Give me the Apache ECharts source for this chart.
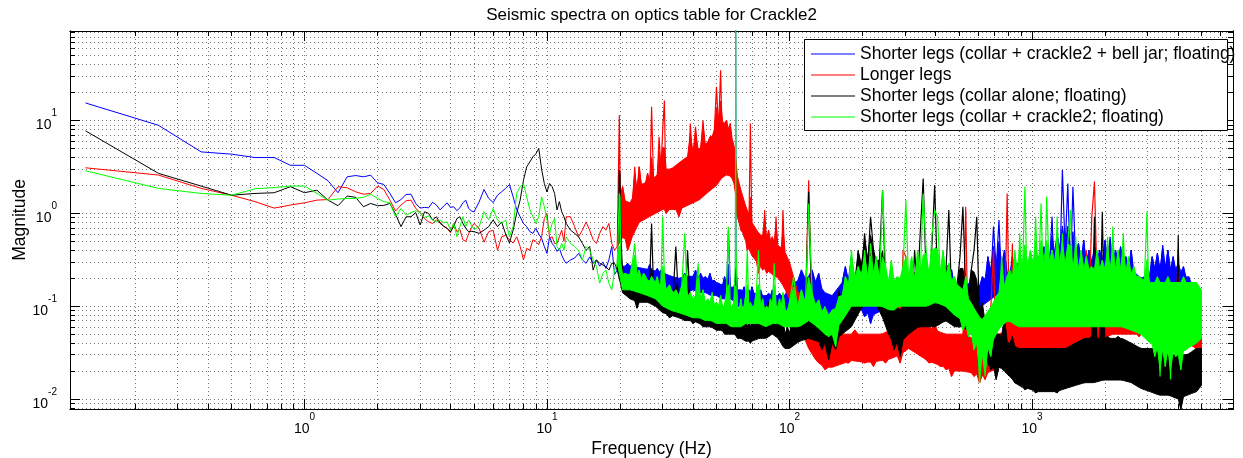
<!DOCTYPE html>
<html>
<head>
<meta charset="utf-8">
<title>Seismic spectra on optics table for Crackle2</title>
<script src="https://cdn.jsdelivr.net/npm/echarts@6/dist/echarts.min.js"></script>
<style>
  html, body { margin: 0; padding: 0; background: #fff; }
  #chart { width: 1243px; height: 458px; }
</style>
</head>
<body>
<div id="chart"></div>
<script>
// frequencies (Hz) in three bands
const freqLow = [
  0.125, 0.25, 0.375, 0.5, 0.625, 0.75, 0.875, 1,
  1.125, 1.25, 1.375, 1.5, 1.625, 1.75, 1.875, 2,
  2.125, 2.25, 2.375, 2.5, 2.625, 2.75, 2.875, 3,
  3.125, 3.25, 3.375, 3.5, 3.625, 3.75, 3.875, 4,
  4.125, 4.25, 4.375, 4.5, 4.625, 4.75, 4.875, 5,
  5.25, 5.5, 5.75, 6, 6.25, 6.5, 6.75, 7,
  7.25, 7.5, 7.75, 8, 8.25, 8.5, 8.75, 9,
  9.25, 9.5, 9.75, 10
]
const freqMid = [
  10.25, 10.5, 10.75, 11, 11.25, 11.5, 11.75, 12,
  12.5, 13, 13.5, 14, 14.5, 15, 15.5, 16, 16.5, 17, 17.5, 18, 18.5, 19, 19.5,
  19.875, 20, 20.125,
  20.5, 21, 21.5, 22, 22.5, 23, 23.5, 24, 24.5, 25, 25.5, 26, 26.5, 27, 27.5, 28, 28.5, 29,
  29.5, 30, 30.5, 31, 32, 33, 34, 35, 36, 37, 38, 39, 40, 41, 42, 43, 44, 45, 46, 47, 48, 49,
  50, 51, 52, 53, 54, 55, 56, 57, 58, 59,
  59.875, 60, 60.125,
  61, 62, 63, 64, 65, 66, 67, 68, 69, 70, 71.5, 73, 74.5, 76, 77.5, 79, 80.5, 82, 83.5, 85,
  86.5, 88, 89.5, 91, 92.5, 94, 96, 98, 100
]
const freqHigh = [
  104, 108, 112, 116, 120, 124, 128, 132, 136, 140, 145, 150, 155, 160, 165, 170, 175, 180,
  186, 192, 198, 204, 210, 216, 222, 228, 235, 242, 249, 256, 263, 270, 278, 286, 294, 302, 310,
  319, 328, 337, 346, 356, 366, 376, 386, 397, 408, 419, 430, 442, 454, 466, 479, 492, 505,
  519, 533, 547, 562, 577, 592, 608, 624, 641, 658, 676, 694, 712, 731, 750, 770, 790,
  810, 830, 850, 870, 890, 910, 935, 960, 985, 1010, 1035, 1060, 1090, 1120, 1150, 1180, 1210,
  1240, 1270, 1300, 1335, 1370, 1405, 1440, 1475, 1515, 1555, 1595, 1635, 1675, 1720, 1765,
  1810, 1855, 1900, 1950, 2000, 2050, 2100, 2155, 2210, 2265, 2320, 2380, 2440, 2500, 2565,
  2630, 2695, 2765, 2835, 2905, 2980, 3055, 3130, 3210, 3290, 3375, 3460, 3545, 3635, 3725,
  3820, 3915, 4010, 4110, 4215, 4320, 4430, 4540, 4655, 4770, 4885, 5000
]

// Shorter legs (collar + crackle2 + bell jar; floating)
const blueLow = [
  15.5, 8.9, 4.6, 4.35, 4.0, 4.0, 3.3, 3.3,
  2.7, 2.25, 1.67, 2.48, 2.56, 2.48, 2.58, 2.14,
  2.05, 1.64, 1.30, 1.41, 1.60, 1.61, 1.28, 1.14,
  1.16, 1.15, 1.32, 1.23, 1.09, 1.20, 1.30, 1.16,
  1.18, 1.07, 1.15, 1.30, 1.39, 1.14, 1.06, 1.04,
  1.33, 1.81, 1.45, 1.31, 1.57, 1.71, 1.86, 2.05,
  1.51, 1.10, 0.92, 0.78, 0.72, 0.635, 0.61, 0.69,
  0.60, 0.54, 0.44, 0.37
]
const blueMid = [
  0.56, 0.475, 0.44, 0.39, 0.42, 0.355, 0.315, 0.29,
  0.315, 0.33, 0.37, 0.315, 0.29, 0.34, 0.29, 0.315, 0.27, 0.30, 0.255, 0.315, 0.44, 0.22, 0.245,
  0.235, 0.29, 0.226,
  0.255, 0.22, 0.29, 0.235, 0.28, 0.226, 0.20, 0.255, 0.22, 0.235, 0.19, 0.226, 0.28, 0.208, 0.235, 0.20, 0.255, 0.208,
  0.245, 0.19, 0.226, 0.162, 0.208, 0.15, 0.19, 0.138, 0.177, 0.226, 0.15, 0.208, 0.162, 0.245, 0.177, 0.226,
  0.15, 0.208, 0.162, 0.226, 0.15, 0.19, 0.138, 0.177, 0.127, 0.162, 0.208, 0.138, 0.66, 0.162, 0.117, 0.15,
  0.2, 120, 0.3,
  0.138, 0.107, 0.15, 0.117, 0.162, 0.099, 0.138, 0.15, 0.107, 0.162, 0.117, 0.138, 0.099, 0.15, 0.107,
  0.127, 0.091, 0.138, 0.107, 0.15, 0.099, 0.127, 0.117, 0.138, 0.091, 0.127, 0.107, 0.15, 0.117
]
const blueHigh = [
  0.177, 0.099, 0.246, 0.127, 0.208, 0.246, 0.150, 0.226, 0.127, 0.099, 0.077, 0.108, 0.065, 0.117,
  0.177, 0.267, 0.150, 0.342, 0.127, 0.091, 0.150, 0.077, 0.127, 0.065, 0.108, 0.177, 0.091, 0.150,
  0.208, 0.108, 0.177, 0.077, 0.150, 0.108, 0.177, 0.091, 0.150, 0.208, 0.108, 0.177, 0.091, 0.150,
  0.342, 0.127, 0.246, 0.150, 0.208, 0.108, 0.177, 0.091, 0.150, 0.246, 0.127, 0.177, 0.099, 0.150,
  0.108, 0.177, 0.091, 0.150, 0.077, 0.127, 0.208, 0.127, 0.342, 0.177, 0.72, 0.246, 0.85, 0.150,
  0.403, 0.208,
  0.150, 0.342, 0.177, 0.29, 0.127, 0.208, 0.117, 0.267, 0.150, 0.226, 0.138, 0.342, 0.177, 0.438,
  0.150, 0.267, 0.92, 0.150, 0.61, 0.208, 2.93, 0.403, 2.10, 0.208, 1.94, 0.29, 0.475, 0.246,
  0.517, 0.208, 0.403, 0.246, 0.438, 0.208, 0.403, 0.267, 0.517, 0.29, 0.56, 0.208, 0.403, 0.267,
  0.438, 0.177, 0.342, 0.192, 0.403, 0.177, 0.150, 0.208, 0.163, 0.192, 0.150, 0.177, 0.342, 0.246,
  0.371, 0.208, 0.455, 0.246, 0.403, 0.208, 0.342, 0.177, 0.29, 0.150, 0.267, 0.127, 0.208, 0.108,
  0.177, 0.127, 0.108, 0.091
]

// Longer legs
const redLow = [
  3.10, 2.59, 1.86, 1.57, 1.34, 1.14, 1.23, 1.30,
  1.39, 1.41, 1.94, 1.89, 1.71, 1.61, 1.64, 1.97,
  1.81, 1.39, 1.06, 1.23, 1.37, 1.39, 1.13, 1.02,
  0.88, 0.81, 0.78, 0.85, 0.81, 0.72, 0.69, 0.62,
  0.78, 0.635, 0.67, 0.52, 0.50, 0.60, 0.70, 0.78,
  0.69, 0.49, 0.635, 0.66, 0.40, 0.56, 0.58, 0.52,
  0.48, 0.56, 0.44, 0.315, 0.42, 0.40, 0.52, 0.50,
  0.46, 0.56, 0.88, 1.0
]
const redMid = [
  0.54, 0.56, 0.475, 0.475, 0.56, 0.66, 0.50, 0.92,
  0.92, 0.72, 0.56, 0.66, 0.81, 0.66, 0.52, 0.475, 0.61, 0.72, 0.66, 0.78, 0.475, 0.40, 0.44,
  11.4, 2.5, 1.51,
  1.94, 1.28, 0.40, 0.475, 0.92, 3.18, 1.28, 3.18, 1.94, 0.92, 1.94, 2.7, 1.28, 14.1, 2.28, 1.28, 2.48, 6.7,
  2.93, 7.9, 16.5, 1.0, 1.28, 1.94, 1.78, 0.92, 2.70, 2.93, 1.51, 9.3, 2.93, 8.6, 2.28, 4.4,
  10.1, 4.07, 2.70, 6.7, 2.93, 7.9, 23.1, 7.9, 34.9, 4.07, 6.15, 10.1, 2.93, 9.3, 3.75, 5.2,
  2.93, 1.78, 1.39,
  0.92, 1.78, 0.66, 1.0, 0.56, 0.78, 0.40, 0.66, 9.3, 0.56, 0.34, 0.44, 0.226, 0.40, 0.245,
  1.09, 0.226, 0.66, 0.29, 0.56, 0.208, 0.92, 0.34, 0.29, 0.245, 1.09, 0.208, 0.177, 0.127
]
const redHigh = [
  0.127, 0.065, 0.138, 0.077, 2.28, 0.047, 0.0339, 0.051, 0.0287, 0.0207, 0.0339, 0.065, 0.0244, 0.040,
  0.0287, 0.047, 0.0244, 0.0339, 0.0555, 0.0287, 0.047, 0.0244, 0.040, 0.0339, 0.0224, 0.047, 0.0287, 0.047,
  0.0244, 0.0339, 0.047, 0.0287, 0.040, 0.0244, 0.403, 0.342, 0.127, 0.047, 0.091, 0.0339, 0.0555, 0.0287,
  0.047, 0.0244, 0.040, 0.065, 0.0339, 0.0224, 0.040, 0.0207, 0.0339, 0.0175, 0.0287, 0.047, 0.0244, 0.0339,
  1.18, 0.0224, 0.0339, 0.0175, 0.0244, 0.0149, 0.0244, 0.0162, 0.0339, 0.091, 0.403, 0.0207, 0.0339, 0.0244,
  0.047, 1.64,
  0.0339, 0.475, 0.0287, 0.208, 0.047, 0.0287, 0.091, 0.0339, 0.0555, 0.0244, 0.065, 0.0339, 0.091, 0.0287,
  0.047, 0.108, 0.0339, 0.0555, 0.0287, 0.077, 0.040, 0.127, 0.0339, 0.077, 0.040, 0.150, 0.047, 0.208,
  0.065, 0.403, 0.108, 0.92, 2.2, 0.177, 0.065, 0.208, 0.091, 0.150, 0.065, 0.246, 0.077, 0.177,
  0.0555, 0.208, 0.091, 0.150, 0.065, 0.127, 0.077, 0.047, 0.108, 0.0555, 0.091, 0.047, 0.150, 0.040,
  0.177, 0.065, 0.127, 0.047, 0.177, 0.077, 0.108, 0.0555, 0.403, 0.065, 0.091, 0.047, 0.077, 0.040,
  0.065, 0.0339, 0.047, 0.0244
]

// Shorter legs (collar alone; floating)
const blackLow = [
  7.76, 2.70, 1.97, 1.57, 1.64, 1.67, 1.94, 1.67,
  1.78, 1.39, 1.21, 1.54, 1.49, 1.18, 1.28, 1.21,
  1.22, 1.28, 0.98, 0.72, 0.92, 0.92, 1.02, 0.75,
  1.04, 1.0, 0.85, 0.92, 0.78, 0.73, 0.69, 0.635,
  0.72, 0.88, 0.92, 0.78, 0.69, 0.635, 0.64, 0.635,
  0.61, 0.66, 0.72, 0.85, 0.72, 0.81, 0.60, 0.48,
  0.66, 1.0, 1.39, 2.28, 3.18, 3.59, 4.07, 4.4,
  5.0, 3.0, 2.1, 1.7
]
const blackMid = [
  2.1, 1.94, 1.64, 1.09, 1.34, 1.04, 0.92, 0.78,
  0.66, 0.61, 0.56, 0.475, 0.40, 0.44, 0.245, 0.315, 0.29, 0.278, 0.267, 0.245, 0.29, 0.29, 0.245,
  2.93, 2.7, 0.66,
  0.226, 0.177, 0.208, 0.127, 0.177, 0.138, 0.095, 0.177, 0.15, 0.127, 0.162, 0.138, 0.177, 0.78, 0.15, 0.127, 0.162, 0.107,
  0.12, 0.16, 0.09, 0.13, 0.075, 0.11, 0.44, 0.09, 0.12, 0.07, 0.40, 0.1, 0.065, 0.11, 0.08, 0.12,
  0.06, 0.1, 0.07, 0.11, 0.065, 0.095, 0.055, 0.09, 0.06, 0.1, 0.05, 0.085, 0.06, 0.1, 0.05, 0.08,
  0.1, 0.3, 0.07,
  0.05, 0.075, 0.045, 0.07, 0.05, 0.08, 0.045, 0.065, 0.04, 0.07, 0.05, 0.08, 0.055, 0.09, 0.06,
  0.1, 0.07, 0.11, 0.075, 0.12, 0.08, 0.1, 0.06, 0.085, 0.045, 0.07, 0.038, 0.06, 0.045
]
const blackHigh = [
  0.099, 0.0555, 0.117, 0.065, 1.71, 0.077, 0.047, 0.091, 0.0339, 0.065, 0.0265, 0.047, 0.0339, 0.150,
  0.071, 0.150, 0.091, 0.208, 0.108, 0.403, 0.177, 0.61, 0.267, 0.92, 0.403, 0.208, 0.315, 1.78,
  0.150, 0.051, 0.091, 0.0339, 0.065, 0.0287, 0.0555, 0.108, 0.208, 0.065, 0.403, 0.150, 0.61, 2.38,
  0.208, 0.091, 0.403, 2.02, 0.177, 0.065, 0.127, 0.246, 1.09, 0.127, 0.065, 0.177, 0.342, 1.18,
  0.150, 0.077, 0.246, 0.403, 0.92, 0.065, 0.108, 0.0287, 0.047, 0.0207, 0.0339, 0.0162, 0.047, 0.0244,
  0.077, 0.0339,
  0.0224, 0.047, 0.0149, 0.0339, 0.0175, 0.0287, 0.0126, 0.0244, 0.0149, 0.0339, 0.0116, 0.0207, 0.0137, 0.0244,
  0.0126, 0.0339, 0.0149, 0.0244, 0.0116, 0.0287, 0.0162, 0.0339, 0.0175, 0.0287, 0.0149, 0.0244, 0.0339, 0.0207,
  0.040, 0.0244, 0.0339, 0.047, 0.92, 0.0287, 0.040, 1.04, 0.0339, 0.047, 0.0244, 0.040, 0.0287, 0.047,
  0.0244, 0.0339, 0.0207, 0.040, 0.0224, 0.0339, 0.0162, 0.0244, 0.0149, 0.0287, 0.0175, 0.0244, 0.0149, 0.0287,
  0.0162, 0.0224, 0.0126, 0.0207, 0.0116, 0.0175, 0.0107, 0.0149, 0.58, 0.0077, 0.0149, 0.0207, 0.0126, 0.0244,
  0.0149, 0.0287, 0.0175, 0.0224
]

// Shorter legs (collar + crackle2; floating)
const greenLow = [
  2.88, 1.86, 1.64, 1.57, 1.84, 1.90, 1.97, 1.97,
  1.64, 1.39, 1.43, 1.45, 1.45, 1.49, 1.61, 1.45,
  1.34, 1.30, 0.92, 1.13, 0.96, 1.02, 1.07, 1.02,
  0.905, 0.94, 0.85, 0.81, 0.85, 0.79, 0.81, 0.66,
  0.78, 0.56, 0.72, 0.92, 0.72, 0.85, 0.75, 0.67,
  0.72, 1.04, 0.85, 1.13, 0.85, 0.78, 0.85, 0.56,
  0.72, 1.64, 1.94, 2.10, 1.5, 1.1, 0.92, 0.78,
  0.92, 1.51, 1.18, 0.85
]
const greenMid = [
  0.61, 0.78, 0.88, 0.44, 0.40, 0.475, 0.40, 0.56,
  0.475, 0.44, 0.40, 0.315, 0.44, 0.40, 0.315, 0.267, 0.177, 0.226, 0.245, 0.177, 0.15, 0.245, 0.29,
  1.64, 1.5, 0.29,
  0.177, 0.226, 0.15, 0.208, 0.29, 0.475, 0.208, 0.245, 0.15, 0.226, 0.208, 0.177, 0.177, 0.208, 0.19, 0.177, 0.208, 0.127,
  0.18, 0.92, 0.2, 0.12, 0.17, 0.09, 0.15, 0.11, 0.17, 0.61, 0.1, 0.14, 0.08, 0.13, 0.29, 0.1,
  0.15, 0.075, 0.12, 0.09, 0.14, 0.07, 0.11, 0.085, 0.13, 0.07, 0.1, 0.14, 0.72, 0.09, 0.065, 0.11,
  0.3, 120, 0.5,
  0.1, 0.075, 0.12, 0.065, 0.1, 0.13, 0.4, 0.08, 0.11, 0.07, 0.1, 0.14, 0.4, 0.085, 0.12,
  0.07, 0.1, 0.065, 0.12, 0.09, 0.29, 0.1, 0.075, 0.12, 0.08, 0.14, 0.09, 0.07, 0.11
]
const greenHigh = [
  0.208, 0.091, 0.150, 0.077, 1.28, 0.138, 0.065, 0.117, 0.0555, 0.099, 0.047, 0.091, 0.0368, 0.127,
  0.091, 0.208, 0.108, 0.403, 0.150, 0.267, 0.108, 0.403, 0.150, 0.475, 0.208, 0.342, 0.150, 1.78,
  0.267, 0.117, 0.315, 0.091, 0.208, 0.108, 0.267, 1.39, 0.177, 0.342, 0.127, 0.403, 0.208, 1.64,
  0.403, 0.150, 0.56, 1.09, 0.92, 0.208, 0.403, 0.150, 0.29, 0.108, 0.208, 0.077, 0.150, 0.0555,
  0.208, 0.047, 0.108, 0.0339, 0.077, 0.0149, 0.0339, 0.0175, 0.047, 0.0287, 0.065, 0.127, 0.077, 0.342,
  0.127, 0.208,
  0.246, 0.091, 0.403, 0.065, 0.61, 0.150, 1.94, 0.077, 0.403, 0.108, 0.92, 0.150, 1.28, 0.091,
  1.51, 0.208, 0.403, 0.091, 0.92, 0.150, 0.61, 0.108, 0.475, 1.09, 0.150, 0.56, 0.127, 0.403,
  0.108, 0.342, 0.091, 0.267, 0.091, 0.403, 0.127, 0.315, 0.077, 0.56, 0.117, 0.72, 0.091, 0.403,
  0.150, 0.61, 0.108, 0.342, 0.091, 0.267, 0.117, 0.208, 0.077, 0.177, 1.04, 0.047, 0.117, 0.0287,
  0.208, 0.0175, 0.150, 0.0224, 0.208, 0.0162, 0.138, 0.0287, 0.177, 0.0207, 0.208, 0.0339, 0.150, 0.047,
  0.177, 0.0555, 0.150, 0.077
]

// dense part of each trace: where the noise fills a band, its solid core (upper / lower edge)
const bandFreq = [
  19.5, 20.5, 22, 24, 26, 28, 30, 32.5, 35, 37.5, 40, 42.5, 45, 47.5, 50, 52.5, 55, 57.5, 59.5,
  61, 63, 66, 70, 75, 80, 85, 90, 95, 100, 110, 120, 130, 140, 150, 165, 180, 200,
  220, 240, 260, 285, 310, 340, 370, 400, 440, 480, 520, 570, 620, 680, 740, 800,
  880, 960, 1050, 1150, 1260, 1380, 1510, 1650, 1800, 1970,
  2150, 2350, 2570, 2810, 3070, 3350, 3660, 4000, 4370, 4770, 5000
]
const blueTop = [
  0.245, 0.27, 0.27, 0.26, 0.25, 0.24, 0.23, 0.21, 0.2, 0.21, 0.21, 0.2, 0.2, 0.19, 0.18, 0.17, 0.17, 0.16, 0.16,
  0.15, 0.15, 0.14, 0.14, 0.13, 0.13, 0.13, 0.13, 0.13, 0.14, 0.2, 0.2, 0.18, 0.14, 0.13, 0.18, 0.2, 0.16,
  0.14, 0.15, 0.16, 0.15, 0.16, 0.15, 0.18, 0.17, 0.15, 0.17, 0.15, 0.15, 0.17, 0.25, 0.3, 0.22,
  0.22, 0.22, 0.25, 0.28, 0.4, 0.45, 0.35, 0.3, 0.3, 0.3,
  0.3, 0.28, 0.25, 0.2, 0.22, 0.25, 0.25, 0.25, 0.2, 0.15, 0.12
]
const blueBot = [
  0.245, 0.2, 0.2, 0.19, 0.18, 0.18, 0.16, 0.15, 0.14, 0.14, 0.15, 0.14, 0.14, 0.13, 0.13, 0.12, 0.12, 0.12, 0.11,
  0.1, 0.1, 0.1, 0.095, 0.095, 0.09, 0.09, 0.09, 0.09, 0.09, 0.1, 0.11, 0.1, 0.08, 0.08, 0.1, 0.11, 0.09,
  0.08, 0.09, 0.09, 0.09, 0.09, 0.09, 0.1, 0.1, 0.09, 0.1, 0.09, 0.09, 0.1, 0.12, 0.14, 0.12,
  0.12, 0.12, 0.13, 0.14, 0.16, 0.18, 0.17, 0.16, 0.16, 0.16,
  0.16, 0.15, 0.14, 0.13, 0.13, 0.14, 0.14, 0.13, 0.12, 0.1, 0.09
]
const redTop = [
  0.44, 1.4, 1.3, 2.0, 2.2, 2.5, 3.0, 3.0, 3.5, 4.0, 4.5, 5, 5.5, 6.5, 8, 10, 9, 7, 5,
  2.5, 1.8, 1.2, 0.8, 0.6, 0.55, 0.5, 0.45, 0.4, 0.3, 0.12, 0.07, 0.05, 0.05, 0.05, 0.05, 0.05, 0.05,
  0.05, 0.05, 0.055, 0.12, 0.15, 0.07, 0.06, 0.055, 0.05, 0.05, 0.05, 0.045, 0.04, 0.05, 0.05, 0.06,
  0.07, 0.08, 0.09, 0.1, 0.1, 0.1, 0.12, 0.15, 0.15, 0.15,
  0.15, 0.15, 0.13, 0.12, 0.12, 0.12, 0.12, 0.12, 0.1, 0.08, 0.06
]
const redBot = [
  0.44, 0.55, 0.5, 0.8, 0.9, 1.0, 1.1, 1.1, 1.1, 1.2, 1.3, 1.4, 1.6, 1.8, 2.0, 2.4, 2.6, 2.5, 2.0,
  0.9, 0.7, 0.5, 0.35, 0.28, 0.25, 0.22, 0.2, 0.16, 0.12, 0.06, 0.035, 0.025, 0.022, 0.022, 0.024, 0.026, 0.025,
  0.025, 0.026, 0.027, 0.03, 0.035, 0.03, 0.026, 0.024, 0.022, 0.02, 0.02, 0.019, 0.018, 0.02, 0.022, 0.025,
  0.028, 0.03, 0.035, 0.035, 0.035, 0.035, 0.04, 0.045, 0.045, 0.045,
  0.05, 0.05, 0.05, 0.05, 0.05, 0.05, 0.05, 0.045, 0.04, 0.035, 0.03
]
const blackTop = [
  0.245, 0.2, 0.18, 0.16, 0.16, 0.14, 0.12, 0.11, 0.1, 0.1, 0.1, 0.1, 0.09, 0.085, 0.08, 0.08, 0.075, 0.075, 0.07,
  0.065, 0.06, 0.06, 0.06, 0.065, 0.07, 0.09, 0.07, 0.05, 0.05, 0.06, 0.06, 0.06, 0.055, 0.055, 0.1, 0.15, 0.3,
  0.35, 0.25, 0.12, 0.09, 0.12, 0.15, 0.15, 0.15, 0.18, 0.15, 0.15, 0.15, 0.08, 0.05, 0.05, 0.04,
  0.035, 0.035, 0.035, 0.035, 0.035, 0.035, 0.04, 0.045, 0.045, 0.045,
  0.045, 0.045, 0.04, 0.035, 0.035, 0.035, 0.03, 0.03, 0.03, 0.035, 0.035
]
const blackBot = [
  0.245, 0.14, 0.12, 0.11, 0.11, 0.1, 0.085, 0.08, 0.075, 0.07, 0.07, 0.065, 0.06, 0.06, 0.055, 0.055, 0.05, 0.05, 0.05,
  0.045, 0.045, 0.042, 0.042, 0.045, 0.045, 0.05, 0.045, 0.035, 0.035, 0.042, 0.045, 0.042, 0.04, 0.04, 0.05, 0.06, 0.1,
  0.12, 0.08, 0.045, 0.04, 0.05, 0.06, 0.06, 0.06, 0.07, 0.06, 0.06, 0.05, 0.03, 0.022, 0.022, 0.018,
  0.014, 0.013, 0.012, 0.012, 0.012, 0.013, 0.014, 0.015, 0.015, 0.016,
  0.016, 0.016, 0.015, 0.013, 0.012, 0.011, 0.011, 0.01, 0.011, 0.012, 0.014
]
const greenTop = [
  0.29, 0.22, 0.22, 0.2, 0.19, 0.18, 0.16, 0.14, 0.13, 0.13, 0.12, 0.12, 0.11, 0.11, 0.1, 0.1, 0.1, 0.1, 0.1,
  0.09, 0.09, 0.1, 0.1, 0.1, 0.09, 0.1, 0.1, 0.09, 0.09, 0.1, 0.12, 0.1, 0.08, 0.08, 0.13, 0.2, 0.22,
  0.2, 0.2, 0.18, 0.2, 0.2, 0.2, 0.22, 0.25, 0.22, 0.18, 0.15, 0.1, 0.07, 0.1, 0.15, 0.18,
  0.25, 0.28, 0.3, 0.3, 0.3, 0.28, 0.25, 0.25, 0.25, 0.25,
  0.25, 0.25, 0.22, 0.2, 0.18, 0.18, 0.18, 0.18, 0.18, 0.18, 0.15
]
const greenBot = [
  0.29, 0.15, 0.15, 0.14, 0.13, 0.12, 0.1, 0.09, 0.085, 0.08, 0.075, 0.075, 0.07, 0.07, 0.065, 0.065, 0.065, 0.06, 0.06,
  0.06, 0.06, 0.065, 0.065, 0.065, 0.06, 0.065, 0.065, 0.06, 0.06, 0.06, 0.07, 0.06, 0.05, 0.05, 0.07, 0.1, 0.1,
  0.1, 0.1, 0.09, 0.1, 0.1, 0.1, 0.1, 0.11, 0.1, 0.08, 0.07, 0.05, 0.03, 0.04, 0.06, 0.07,
  0.06, 0.06, 0.06, 0.06, 0.06, 0.06, 0.06, 0.06, 0.06, 0.06,
  0.06, 0.06, 0.055, 0.05, 0.04, 0.035, 0.035, 0.03, 0.035, 0.04, 0.045
]

const seriesNames = [
  'Shorter legs (collar + crackle2 + bell jar; floating)',
  'Longer legs',
  'Shorter legs (collar alone; floating)',
  'Shorter legs (collar + crackle2; floating)'
]
const seriesColors = ['#0000ff', '#ff0000', '#000000', '#00ff00']

// tick positions
const majorX = [1, 10, 100, 1000]
const minorX = [0.2, 0.3, 0.4, 0.5, 0.6, 0.7, 0.8, 0.9, 2, 3, 4, 5, 6, 7, 8, 9,
  20, 30, 40, 50, 60, 70, 80, 90, 200, 300, 400, 500, 600, 700, 800, 900,
  2000, 3000, 4000, 5000, 6000]
const majorY = [0.01, 0.1, 1, 10]
const minorY = [0.008, 0.009, 0.02, 0.03, 0.04, 0.05, 0.06, 0.07, 0.08, 0.09,
  0.2, 0.3, 0.4, 0.5, 0.6, 0.7, 0.8, 0.9, 2, 3, 4, 5, 6, 7, 8, 9,
  20, 30, 40, 50, 60, 70, 80, 90]

const X_MIN = 0.1079
const X_MAX = 6745
const Y_MIN = 0.0078
const Y_MAX = 92.4
// how far a noisy sample may push the solid band edge out (ratio)
const EDGE = 1.7

const FONT = '"Liberation Sans", Arial, Helvetica, sans-serif'

const freqs = freqLow.concat(freqMid, freqHigh)
const values = [
  blueLow.concat(blueMid, blueHigh),
  redLow.concat(redMid, redHigh),
  blackLow.concat(blackMid, blackHigh),
  greenLow.concat(greenMid, greenHigh)
]
const bands = [[blueTop, blueBot], [redTop, redBot], [blackTop, blackBot], [greenTop, greenBot]]
// traces are single lines up to 19.5 Hz, dense noise above
const SPLIT = freqLow.length + freqMid.indexOf(19.5)

// point on the straight band edge (log-log) between two read core points
function edgeAt(xs, ys, x) {
  let k = 1
  while (k < xs.length - 1 && xs[k] < x) k++
  const t = (Math.log(x) - Math.log(xs[k - 1])) / (Math.log(xs[k]) - Math.log(xs[k - 1]))
  return Math.exp(Math.log(ys[k - 1]) + t * (Math.log(ys[k]) - Math.log(ys[k - 1])))
}

function powLabel(v) {
  const e = Math.round(Math.log10(v))
  return '{b|10}{s|' + e + '}'
}
const labelRich = {
  b: { fontSize: 14, fontFamily: FONT, color: '#000', lineHeight: 24, verticalAlign: 'bottom' },
  s: { fontSize: 10, fontFamily: FONT, color: '#000', lineHeight: 14, verticalAlign: 'top' }
}
const gridLine = { show: true, lineStyle: { color: '#777', width: 1, type: [1, 3] } }
const nameStyle = { fontSize: 17.5, fontFamily: FONT, color: '#000' }

function makeAxis(dir, position, ticks, len, extra) {
  const isX = dir === 'x'
  return Object.assign({
    type: 'log',
    logBase: 10,
    min: isX ? X_MIN : Y_MIN,
    max: isX ? X_MAX : Y_MAX,
    position: position,
    nameMoveOverlap: false,
    axisLine: { show: true, onZero: false, lineStyle: { color: '#000', width: 1 } },
    axisTick: { show: true, inside: true, length: len, customValues: ticks, lineStyle: { color: '#000', width: 1 } },
    axisLabel: { show: false },
    splitLine: { show: false },
    minorTick: { show: false },
    minorSplitLine: { show: false },
    axisPointer: { show: false }
  }, extra || {})
}

// filled core of a noisy trace; its edges follow the samples that poke out of it
function bandSeries(i) {
  const top = bands[i][0]
  const bot = bands[i][1]
  const vals = values[i]
  return {
    type: 'custom',
    name: seriesNames[i] + ' (band)',
    coordinateSystem: 'cartesian2d',
    xAxisIndex: 0,
    yAxisIndex: 0,
    clip: true,
    silent: true,
    z: 2 + i * 2,
    data: bandFreq.map((f, k) => [f, top[k], bot[k]]),
    encode: { x: 0, y: [1, 2] },
    renderItem: function (params, api) {
      if (params.dataIndex !== 0) return null
      const upper = []
      const lower = []
      for (let k = SPLIT; k < freqs.length; k++) {
        const f = freqs[k]
        const v = vals[k]
        const ct = edgeAt(bandFreq, top, f)
        const cb = edgeAt(bandFreq, bot, f)
        upper.push(api.coord([f, Math.max(ct, Math.min(v, ct * EDGE))]))
        lower.push(api.coord([f, Math.min(cb, Math.max(v, cb / EDGE))]))
      }
      return {
        type: 'polygon',
        shape: { points: upper.concat(lower.reverse()) },
        style: { fill: seriesColors[i], stroke: seriesColors[i], lineWidth: 1 }
      }
    }
  }
}

function lineSeries(i, from, to, width) {
  return {
    name: seriesNames[i],
    type: 'line',
    xAxisIndex: 0,
    yAxisIndex: 0,
    symbol: 'none',
    showSymbol: false,
    clip: true,
    z: 3 + i * 2,
    color: seriesColors[i],
    lineStyle: { width: width, color: seriesColors[i] },
    data: freqs.slice(from, to).map((f, k) => [f, values[i][from + k]])
  }
}

const chart = echarts.init(document.getElementById('chart'))

const series = []
for (let i = 0; i < 4; i++) {
  series.push(lineSeries(i, 0, SPLIT + 1, 1))
  series.push(bandSeries(i))
  series.push(lineSeries(i, SPLIT, freqs.length, 1.2))
}

const option = {
  animation: false,
  backgroundColor: '#fff',
  grid: { left: 70, right: 10, top: 31, bottom: 49, containLabel: false, outerBoundsMode: 'none' },
  graphic: {
    elements: [{
      type: 'rect',
      z: 19,
      silent: true,
      shape: { x: 804.5, y: 39.5, width: 423, height: 91 },
      style: { fill: '#fff', stroke: '#000', lineWidth: 1 }
    }]
  },
  legend: {
    z: 20,
    orient: 'vertical',
    left: 804,
    top: 40,
    padding: [5, 7, 6, 7],
    icon: 'rect',
    itemWidth: 44,
    itemHeight: 1,
    itemGap: 3,
    backgroundColor: 'transparent',
    borderWidth: 0,
    selectedMode: false,
    textStyle: { fontSize: 17.5, fontFamily: FONT, color: '#000', lineHeight: 18 },
    data: seriesNames
  },
  xAxis: [
    makeAxis('x', 'bottom', majorX, 10, {
      name: 'Frequency (Hz)',
      nameLocation: 'middle',
      nameGap: 31,
      nameTextStyle: nameStyle,
      axisLabel: { show: true, customValues: majorX, margin: 3, formatter: powLabel, rich: labelRich },
      splitLine: gridLine
    }),
    makeAxis('x', 'bottom', minorX, 5, { splitLine: gridLine }),
    makeAxis('x', 'top', majorX, 10, {
      name: 'Seismic spectra on optics table for Crackle2',
      nameLocation: 'middle',
      nameGap: 7,
      nameTextStyle: { fontSize: 17, fontFamily: FONT, color: '#000' }
    }),
    makeAxis('x', 'top', minorX, 5)
  ],
  yAxis: [
    makeAxis('y', 'left', majorY, 10, {
      name: 'Magnitude',
      nameLocation: 'middle',
      nameGap: 41,
      nameTextStyle: nameStyle,
      axisLabel: { show: true, customValues: majorY, margin: 13, formatter: powLabel, rich: labelRich },
      splitLine: gridLine
    }),
    makeAxis('y', 'left', minorY, 5, { splitLine: gridLine }),
    makeAxis('y', 'right', majorY, 10),
    makeAxis('y', 'right', minorY, 5)
  ],
  series: series
}

chart.setOption(option)
</script>
</body>
</html>
